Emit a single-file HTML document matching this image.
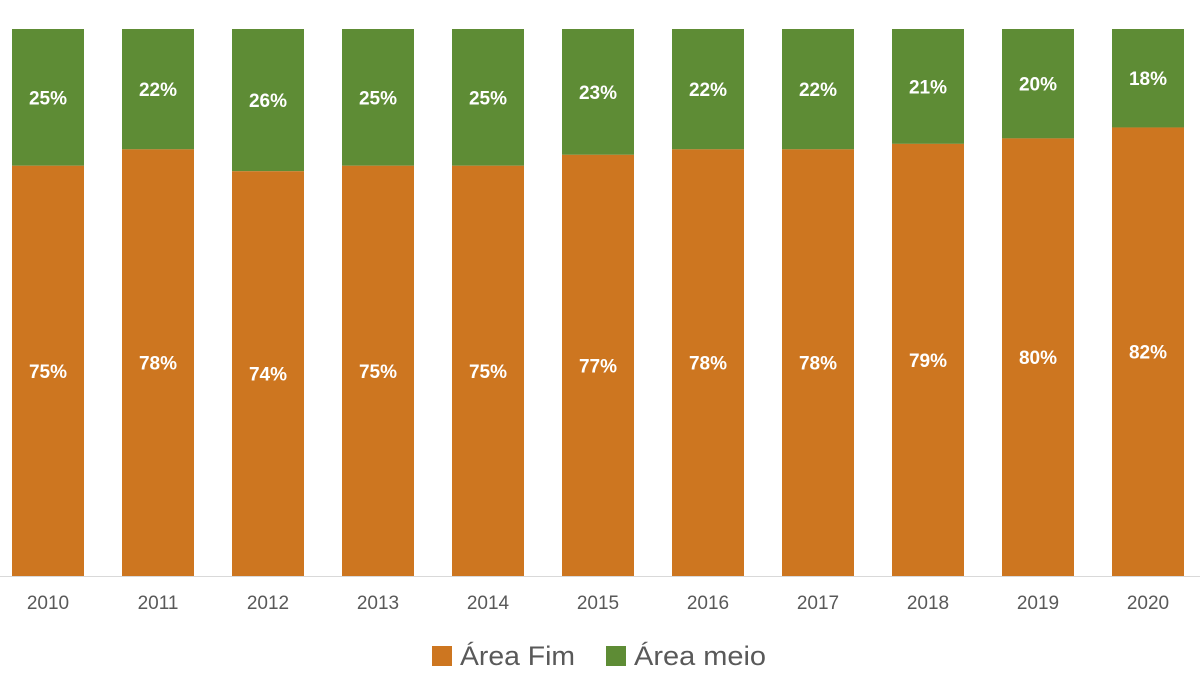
<!DOCTYPE html>
<html><head><meta charset="utf-8"><style>body{margin:0;background:#fff}</style></head><body>
<svg width="1200" height="678" xmlns="http://www.w3.org/2000/svg" font-family="'Liberation Sans',sans-serif">
<g id="bars"></g>
<line x1="0" y1="576.5" x2="1200" y2="576.5" stroke="#d9d9d9" stroke-width="1"/>
<rect x="432" y="646" width="20" height="20" fill="#CD7620"/>
<text x="460" y="665" font-size="27" fill="#595959" textLength="115" lengthAdjust="spacingAndGlyphs">Área Fim</text>
<rect x="606" y="646" width="20" height="20" fill="#5E8C35"/>
<text x="634" y="665" font-size="27" fill="#595959" textLength="132" lengthAdjust="spacingAndGlyphs">Área meio</text>
</svg>
<script>
var g=[25,22,26,25,25,23,22,22,21,20,18],s='',T=29,B=576,H=B-T;
for(var i=0;i<11;i++){var x=12+110*i,y=T+H*g[i]/100,c=x+36;
s+='<rect x="'+x+'" y="'+T+'" width="72" height="'+(y-T)+'" fill="#5E8C35"/>';
s+='<rect x="'+x+'" y="'+y+'" width="72" height="'+(B-y)+'" fill="#CD7620"/>';
s+='<text x="'+c+'" y="'+((T+y)/2+7)+'" font-size="19" font-weight="bold" fill="#fff" text-anchor="middle">'+g[i]+'%</text>';
s+='<text x="'+c+'" y="'+((y+B)/2+7)+'" font-size="19" font-weight="bold" fill="#fff" text-anchor="middle">'+(100-g[i])+'%</text>';
s+='<text x="'+c+'" y="609" font-size="19" fill="#595959" text-anchor="middle">'+(2010+i)+'</text>';}
document.getElementById('bars').innerHTML=s;
</script>
</body></html>
